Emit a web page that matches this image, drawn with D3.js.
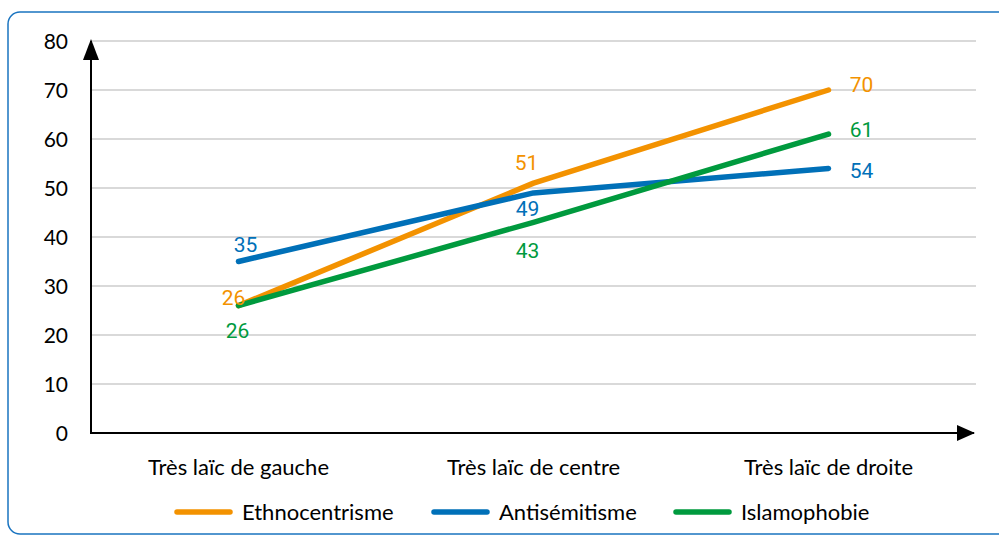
<!DOCTYPE html>
<html><head><meta charset="utf-8">
<script src="https://cdn.jsdelivr.net/npm/d3@7/dist/d3.min.js"></script>
<style>body{margin:0;background:#fff}svg{display:block}</style>
</head><body><svg id="c" width="999" height="536"></svg>
<script>
const categories = ["Très laïc de gauche", "Très laïc de centre", "Très laïc de droite"];
const seriesNames = ["Ethnocentrisme", "Antisémitisme", "Islamophobie"];
const ethnocentrisme = [26, 51, 70];
const antisemitisme = [35, 49, 54];
const islamophobie = [26, 43, 61];
const yTicks = [0, 10, 20, 30, 40, 50, 60, 70, 80];

(function () {
const colors = ["#F39200", "#0070B8", "#009A3E"];
const series = [ethnocentrisme, antisemitisme, islamophobie];
// label centre offsets per series/point [dx, dy]
const labelPos = [
  [[-5, -8], [-7, -21], [33, -6]],
  [[7, -17], [-6, 16], [33, 2]],
  [[-1, 25], [-6, 28], [33, -5]]
];
const textFont = "Lato, 'Open Sans', sans-serif";

const svg = d3.select("#c");
const mLeft = 91, mRight = 976, mTop = 41, mBottom = 433;
const x = d3.scalePoint().domain(categories).range([mLeft, mRight]).padding(0.5);
const y = d3.scaleLinear().domain([0, 80]).range([mBottom, mTop]);

// frame
svg.append("rect").attr("x", 8).attr("y", 12).attr("width", 1010).attr("height", 522)
  .attr("rx", 12).attr("fill", "none").attr("stroke", "#1a74c0").attr("stroke-width", 1.5);

// gridlines
svg.append("g").selectAll("line").data(yTicks.filter(d => d > 0)).join("line")
  .attr("x1", mLeft).attr("x2", mRight).attr("y1", d => y(d)).attr("y2", d => y(d))
  .attr("stroke", "#d9d9d9").attr("stroke-width", 2);

// y tick labels
svg.append("g").selectAll("text").data(yTicks).join("text")
  .attr("x", 68).attr("y", d => y(d)).attr("dy", "0.36em").attr("text-anchor", "end")
  .attr("font-family", textFont).attr("font-size", 21).attr("fill", "#000")
  .text(d => d);

// axes with arrows
svg.append("line").attr("x1", mLeft).attr("x2", mLeft).attr("y1", mBottom + 1).attr("y2", mTop)
  .attr("stroke", "#000").attr("stroke-width", 2);
svg.append("path").attr("d", `M${mLeft},${mTop - 2}L${mLeft - 8},${mTop + 19}L${mLeft + 8},${mTop + 19}Z`).attr("fill", "#000");
svg.append("line").attr("x1", mLeft - 1).attr("x2", mRight - 2).attr("y1", mBottom).attr("y2", mBottom)
  .attr("stroke", "#000").attr("stroke-width", 2);
svg.append("path").attr("d", `M${mRight - 1},${mBottom}L${mRight - 19},${mBottom - 8}L${mRight - 19},${mBottom + 8}Z`).attr("fill", "#000");

// category labels
svg.append("g").selectAll("text").data(categories).join("text")
  .attr("x", d => x(d)).attr("y", 475).attr("text-anchor", "middle")
  .attr("font-family", textFont).attr("font-size", 22).attr("fill", "#000")
  .text(d => d);

// lines
const line = d3.line().x((d, i) => x(categories[i])).y(d => y(d));
series.forEach((s, k) => {
  svg.append("path").datum(s).attr("d", line).attr("fill", "none")
    .attr("stroke", colors[k]).attr("stroke-width", 5.5).attr("stroke-linecap", "round").attr("stroke-linejoin", "round");
});
// labels
series.forEach((s, k) => {
  svg.append("g").selectAll("text").data(s).join("text")
    .attr("x", (d, i) => x(categories[i]) + labelPos[k][i][0])
    .attr("y", (d, i) => y(d) + labelPos[k][i][1])
    .attr("dy", "0.36em").attr("text-anchor", "middle")
    .attr("font-family", "'Liberation Sans Narrow', Roboto, sans-serif").attr("font-size", 21)
    .attr("fill", colors[k]).text(d => d);
});

// legend
const legX = [175, 432, 674];
const lg = svg.append("g");
seriesNames.forEach((n, k) => {
  lg.append("line").attr("x1", legX[k] + 2).attr("x2", legX[k] + 55).attr("y1", 512).attr("y2", 512)
    .attr("stroke", colors[k]).attr("stroke-width", 5.5).attr("stroke-linecap", "round");
  lg.append("text").attr("x", legX[k] + 67).attr("y", 512).attr("dy", "0.36em")
    .attr("font-family", textFont).attr("font-size", 22).attr("fill", "#000").text(n);
});
})();
</script></body></html>
